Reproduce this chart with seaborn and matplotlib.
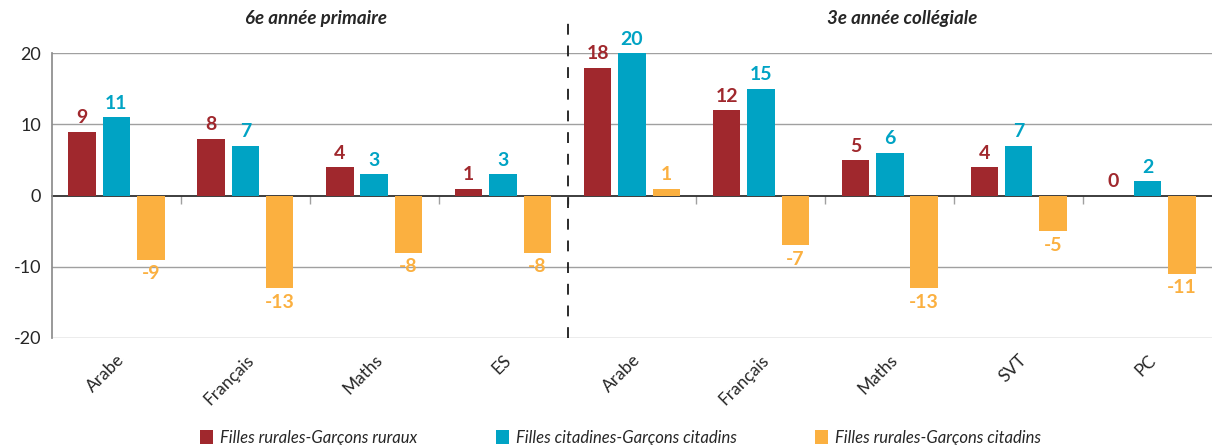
import pandas as pd
import numpy as np
import matplotlib
matplotlib.use("Agg")
import matplotlib.pyplot as plt
import seaborn as sns

# données
matieres = ["Arabe", "Français", "Maths", "ES", "Arabe", "Français", "Maths", "SVT", "PC"]
rur_rur = [9, 8, 4, 1, 18, 12, 5, 4, 0]
cit_cit = [11, 7, 3, 3, 20, 15, 6, 7, 2]
rur_cit = [-9, -13, -8, -8, 1, -7, -13, -5, -11]
series = ["Filles rurales-Garçons ruraux", "Filles citadines-Garçons citadins", "Filles rurales-Garçons citadins"]
niveaux = ["6e année primaire", "3e année collégiale"]
couleurs = ["#A0282D", "#00A3C4", "#FBB040"]

sns.set_theme(style="white")
plt.rcParams['font.family'] = ['Lato', 'DejaVu Sans']

# format long
cles = [f"{i}-{m}" for i, m in enumerate(matieres)]
df = pd.DataFrame({
    "cle": cles * 3,
    "serie": np.repeat(series, len(cles)),
    "valeur": rur_rur + cit_cit + rur_cit,
})

fig = plt.figure(figsize=(12.12, 4.45), dpi=100)
ax = fig.add_axes([52/1212, 107/445, 1160/1212, 284.7/445])

sns.barplot(data=df, x="cle", y="valeur", hue="serie", order=cles, hue_order=series,
            palette=couleurs, width=0.8, gap=0.2, ax=ax, legend=True, saturation=1,
            linewidth=0, edgecolor="none")

ax.set_ylim(-20, 20)
ax.set_xlim(-0.5, len(cles) - 0.5)
ax.set_yticks([-20, -10, 0, 10, 20])
ax.set_yticklabels(["-20", "-10", "0", "10", "20"], fontsize=13, color="#262626")
ax.set_xticks(range(len(cles)))
ax.set_xticklabels(matieres, rotation=45, ha="right", rotation_mode="anchor", fontsize=12.5, color="#262626")
ax.tick_params(axis="x", length=0, pad=10)
ax.tick_params(axis="y", length=0, pad=8)
ax.set_xlabel("")
ax.set_ylabel("")

# grille
for v in [-20, -10, 10, 20]:
    ax.axhline(v, color="#A0A0A0", lw=1.0, zorder=0)
for s in ["top", "right", "bottom"]:
    ax.spines[s].set_visible(False)
ax.spines["left"].set_color("#8C8C8C")

# axe au zéro avec graduations entre les matières
sec = ax.secondary_xaxis(0.5)
sec.set_xticks(np.arange(0.5, len(cles) - 1, 1.0))
sec.set_xticklabels([])
sec.tick_params(axis="x", direction="in", length=6, color="#A0A0A0", width=1)
sec.spines["bottom"].set_color("#A0A0A0")
sec.spines["bottom"].set_linewidth(1.0)

# étiquettes de valeurs
for cont, col in zip(ax.containers, couleurs):
    ax.bar_label(cont, fmt="%d", padding=4, color=col, fontsize=14, fontweight="bold")

# séparation et titres de groupes
ax.plot([3.5, 3.5], [-20, 25.6], color="#1A1A1A", lw=1.3, ls=(0, (6, 6)), clip_on=False)
ax.text(1.55, 24.9, niveaux[0], ha="center", va="center", fontsize=13.5,
        fontweight="bold", fontstyle="italic", color="#262626")
ax.text(6.1, 24.9, niveaux[1], ha="center", va="center", fontsize=13.5,
        fontweight="bold", fontstyle="italic", color="#262626")

# légende
leg = ax.get_legend()
handles = leg.legend_handles
leg.remove()
fig.legend(handles, series, loc="lower center", bbox_to_anchor=(0.512, -0.035), ncol=3,
           frameon=False, prop={"size": 12, "style": "italic"}, handlelength=0.8,
           handleheight=0.9, handletextpad=0.4, columnspacing=4.7, labelcolor="#262626")

fig.savefig("out.png", dpi=100)
